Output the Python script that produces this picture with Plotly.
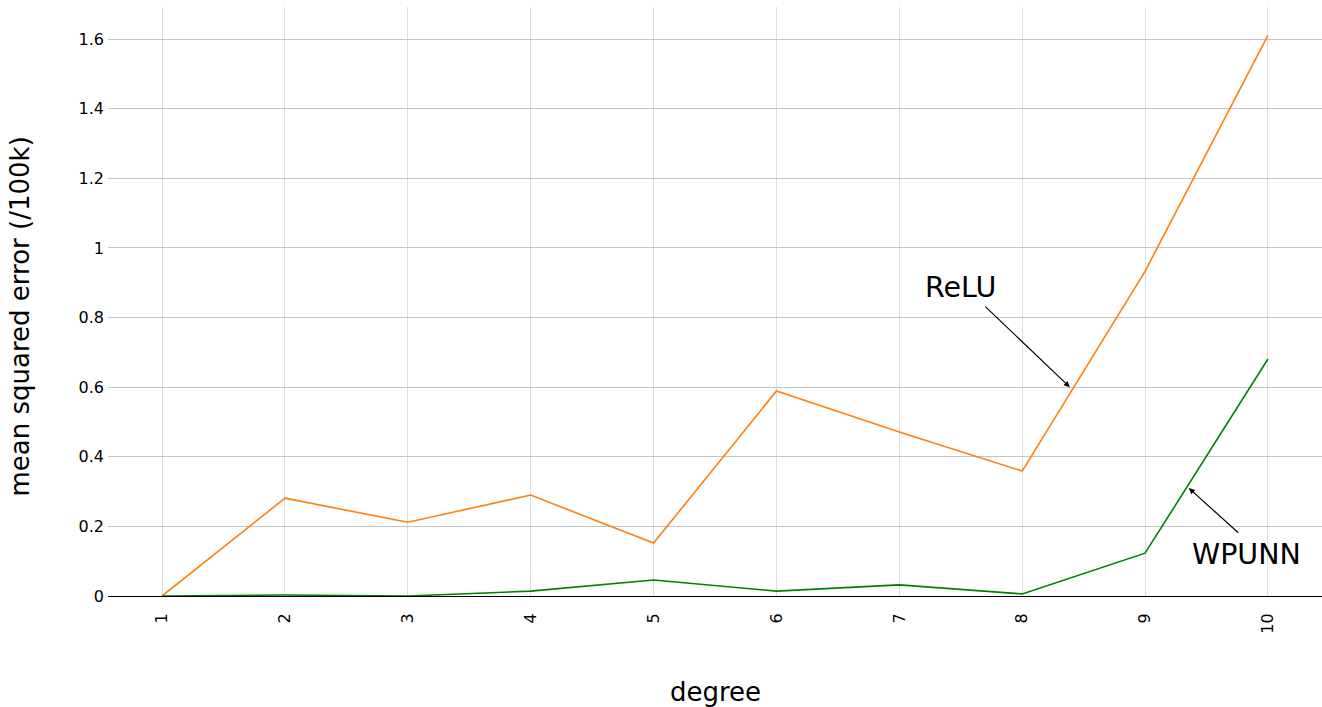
import plotly.graph_objects as go

degrees = [1, 2, 3, 4, 5, 6, 7, 8, 9, 10]
relu = [0.0, 0.281, 0.212, 0.290, 0.152, 0.589, 0.471, 0.359, 0.933, 1.611]
wpunn = [0.0, 0.003, 0.0, 0.014, 0.046, 0.014, 0.032, 0.006, 0.123, 0.681]
y_ticks = [0, 0.2, 0.4, 0.6, 0.8, 1.0, 1.2, 1.4, 1.6]
y_tick_text = ["0", "0.2", "0.4", "0.6", "0.8", "1", "1.2", "1.4", "1.6"]

font = "DejaVu Sans, sans-serif"

fig = go.Figure()
fig.add_trace(go.Scatter(x=degrees, y=relu, mode="lines", name="ReLU",
                         line=dict(color="#ff7f0e", width=1.6)))
fig.add_trace(go.Scatter(x=degrees, y=wpunn, mode="lines", name="WPUNN",
                         line=dict(color="#008000", width=1.6)))

# arrows (no text) and labels
fig.add_annotation(x=8.388, y=0.600, ax=-86, ay=-82, text="", showarrow=True,
                   arrowhead=2, arrowsize=1, arrowwidth=1.2, arrowcolor="black")
fig.add_annotation(x=7.501, y=0.887, text="ReLU", showarrow=False,
                   font=dict(size=28.5, color="black", family=font))
fig.add_annotation(x=9.356, y=0.310, ax=51, ay=46, text="", showarrow=True,
                   arrowhead=2, arrowsize=1, arrowwidth=1.2, arrowcolor="black")
fig.add_annotation(x=9.828, y=0.118, text="WPUNN", showarrow=False,
                   font=dict(size=28.5, color="black", family=font))

# axis titles
fig.add_annotation(xref="paper", yref="paper", x=0.5, y=0, xanchor="center",
                   yanchor="middle", yshift=-96, text="degree", showarrow=False,
                   font=dict(size=26, color="black", family=font))
fig.add_annotation(xref="paper", yref="paper", x=0, y=0.5, xanchor="center",
                   yanchor="middle", xshift=-89, yshift=-15, textangle=-90,
                   text="mean squared error (/100k)", showarrow=False,
                   font=dict(size=26, color="black", family=font))

fig.update_layout(
    width=1322, height=707,
    margin=dict(l=108, r=0, t=7, b=111),
    plot_bgcolor="white", paper_bgcolor="white",
    showlegend=False,
    font=dict(family=font, color="black", size=16),
    xaxis=dict(
        range=[0.56, 10.44], tickvals=degrees, ticktext=[str(d) for d in degrees],
        tickangle=-90, showgrid=True, gridcolor="#dddddd", gridwidth=1,
        zeroline=False, showline=False,
        ticks="outside", ticklen=10, tickcolor="rgba(0,0,0,0)",
        automargin=False,
    ),
    yaxis=dict(
        range=[0, 1.6925], tickvals=y_ticks, ticktext=y_tick_text,
        showgrid=True, gridcolor="#c4c4c4", gridwidth=1.2,
        zeroline=True, zerolinecolor="black", zerolinewidth=1.4,
        showline=False, ticks="", ticklabelstandoff=3,
        automargin=False,
    ),
)

fig.write_html(
    "out.html",
    config={"displayModeBar": False},
    post_script="document.body.style.margin='0';document.body.style.overflow='hidden';",
)
